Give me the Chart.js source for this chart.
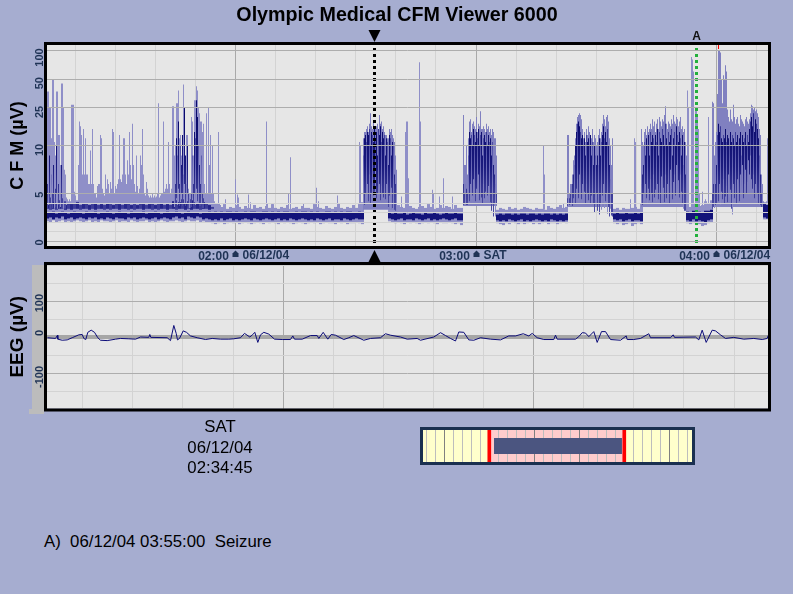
<!DOCTYPE html>
<html><head><meta charset="utf-8">
<style>
html,body{margin:0;padding:0;background:#a6add0;width:793px;height:594px;overflow:hidden}
canvas{position:absolute}
.t{position:absolute;font-family:"Liberation Sans",Arial,sans-serif;font-size:16.8px;color:#000;white-space:pre;line-height:20px}
.c{width:120px;left:160px;text-align:center}
.h{left:0;width:794px;top:2px;line-height:24px;text-align:center;font-weight:bold;font-size:19.7px}
</style></head><body>
<canvas id="cfm" width="793" height="263" style="left:0px;top:0px"></canvas>
<canvas id="eeg" width="793" height="160" style="left:0px;top:258px"></canvas>
<canvas id="nav" width="275" height="38" style="left:420px;top:427px"></canvas>
<div class="t h">Olympic Medical CFM Viewer 6000</div>
<div class="t c" style="top:417px">SAT</div>
<div class="t c" style="top:438px">06/12/04</div>
<div class="t c" style="top:458px">02:34:45</div>
<div class="t" style="left:44px;top:532px">A)  06/12/04 03:55:00  Seizure</div>
<script src="https://cdn.jsdelivr.net/npm/chart.js@4/dist/chart.umd.js"></script>
<script>
const cfmTicks = [100,50,25,10,5,4,3,2,1,0];
const cfmLabelled = [100,50,25,10,5,0];
const tenMinuteCols = [28,68,108,148,188,228,268,308,348,388,429,469,509,549,589,629,669,709];
const hourCols = [188,429,669];
const hourLabels = ["02:00","03:00","04:00"];
const dayLabels = ["06/12/04","SAT","06/12/04"];
const eegTicks = [200,150,100,50,0,-50,-100,-150];
const eegLabelled = [100,0,-100];
const cursorCol = 327, eventCol = 649, eventLabel = "A";
const clipCol = 671;

// light towers, one value per column from column 0
const earlyTops = [37,37,25,25,12,50,50,11,9,37,37,13,13,8,45,45,25,7.5,7,4.6,4.4,4.2,4.4,4.2,27,27,27,5.2,4.8,4.3,4.3,8,18,16,13,7,15,7,12,7,7,6,6,9.5,6,15,6,5,5,4.6,5.8,6,6,13,12,5.5,5,4.8,7,5.5,6.5,6,5,6.2,5.5,15,14,5,5.8,5.5,6,6.5,13,6.5,6.2,7,12,12,7,6,8.5,7,14,8,6.5,17,8,6,5.2,9,5.8,5,5.5,9,8,15,7,5,4.8,6.2,5.5,4.8,4.6,4.8,4.6,5,4.6,4.8,4.6,4.7,5,28,4.6,4.8,5,5,18,5.2,5.5,6,5.5,11,6,5,5.5,26,26,9,10,28,28,38,12,13,9,11,44,14,8,13,13,5.5,5,5,20,18,9,30,30,42,38,25,22,18,18,14,17,6,5,22,5,25,8,13,5,10,5,4.2,4,4,4,14,4,3.8,3.6,3.6];
// isolated thin spikes
const spikeCols = [178,188,190,191,201,203,219,220,225,241,243,256,269,271,290,312,313,354,358,359,360,361,372,373,385,386,392,396,405,496,497,516,583,587,588,640,641,644,645,646,648,649,650,651,652,655,658,661,720];
const spikeTops = [4.4,6.5,4.9,4.6,4.9,4.1,18,4,4,5,8.8,4,5.6,4.2,4.8,11,10,4.7,14,18,18,6.6,75,18,5.4,5,4.7,6.6,4.7,10,7,4,4.4,12,11,38,25,85,80,60,25,25,20,15,5,5.2,4.4,20,12];
// dense episodes: first column, light envelope, dark streak limits
const burstStarts = [316,416,520,594,665];
const burstFloors = [3.3,3.7,3.6,3.6,3.6];
const burstTops = [
[12,14,14,15,16,14,17,22,16,15,18,15,15,16,17,15,21,17,18,15,16,14,13,13,12,12,15,14,15,13,12,11,9,7.5],
[21,8,8,10,7,12,18,19,14,17,18,16,15,20,14,17,16,23,15,15,16,15,14,17,15,16,14,15,13,15,14,12,12,9],
[13,13,5,6,6,7,8.5,9,12,17,20,21,22,21,19,15,12,14,11,15,13,16,14,13,12,15,11,13,12,10,11,13,15,12,14,17,21,19,16,20,21,18,12,10,8,12],
[15,11,10,14,15,13,16,14,15,17,15,19,16,18,14,17,19,15,20,18,16,19,18,21,26,17,15,18,17,16,19,17,21,18,17,20,19,16,18,20,15,16,14,15,11,9],
[29,28,9,11,14,35,100,100,95,50,28,55,50,70,60,24,20,18,24,19,18,27,20,17,19,20,17,16,21,19,18,17,16,19,20,18,17,19,22,27,26,24,25,23,24,22,20,15,13,7,6,4.2]];
const streakStarts = [0,127,316,416,520,594,665];
const streakHighs = [
[6,5,9,4.6,7,5,8,4.5,5.5,10,4.4,6,4.3,5,8,4.5,4.4,4.2,4.2],
[5,6,12,9,18,6,10,8,13,7,25,9,6,10,5,4.5,4.4,5,9,6,14,12,30,20,10,8,6,9,5,4.5],
[9,12,13,11,14,13,15,10,14,13,11,15,12,14,9,15,13,16,11,14,12,13,9,12,11,8,13,12,9,11,10,7,6,5.5],
[6,5,6,5.5,5,9,14,12,13,10,15,13,11,14,12,15,10,13,14,9,12,13,11,14,10,13,11,12,9,11,8,7,6,5],
[4.5,5,4.5,5,5.5,6,7,8,10,14,17,18,16,14,12,13,10,12,9,13,11,12,10,13,9,11,8,10,9,8,9,8,12,9,11,13,16,12,14,11,15,10,8,6.5,5,5],
[6,7,8,11,9,12,10,13,9,14,11,13,12,10,13,11,15,9,14,12,11,15,13,10,17,12,10,14,11,13,15,9,12,14,10,16,13,11,14,12,9,13,8,11,7,5],
[5,6,5.5,6,8,13,17,14,16,12,11,13,12,15,11,13,12,10,14,11,13,12,10,14,11,13,10,12,14,9,13,11,12,14,10,13,11,15,18,20,16,22,14,19,17,15,12,9,7,5]];
const streakLows = [
[3.4,3.8,4,3.4,4.5,3.5,4.2,3.4,3.6,5,3.4,3.8,3.4,3.6,4,3.4,3.4,3.4,3.4],
[3.6,4,4.5,3.8,5.5,3.7,4.2,5,3.7,4.5,6,3.7,4,5,3.5,3.5,3.5,3.6,4.5,3.7,5,3.8,5.5,4.2,4,3.7,3.7,4.5,3.5,3.5],
[4,3.8,5,4.5,6,4.2,7,3.9,5,6.5,4.8,5.2,7.5,4.5,5,4.6,6,4.3,5.8,5,4.6,5.5,4.4,6,4.2,3.6,4.8,3.4,5.6,3.5,3.4,3.3,3.2,3.2],
[3.8,3.9,4,3.8,3.8,5,4.2,6,4.4,4.8,6.5,5,4.2,5.5,4.6,7,4.3,5,4.6,4,6,4.5,5.2,4.3,4.8,5.8,4.2,4.1,3.2,5,2.6,4,2.6,4],
[3.7,3.6,3.8,3.9,4,3.7,4.5,5,4,5.5,6.5,4.5,7,5,4.4,6,4.6,5.2,4,6,5,4.3,5.5,4,4.8,5.5,4,3,4.4,5,3.2,4.6,2.8,4,3.3,4.8,6,3.5,4.2,5,2.9,3.6,2.6,3.4,2.7,2.6],
[4,3.8,5,4.2,6,4.5,3.9,5.5,4.3,6.5,5,4.1,7,4.6,5.4,4.2,6,4.4,5.2,3.9,6.8,4.7,5.6,4.1,7,4.5,6,5,3.9,7.5,5.2,4.4,6.2,7,4.8,8,5.5,6.4,4.6,7,5.2,4,3.4,3.2,3.2,3.2],
[3.4,3.6,3.5,3.8,4,5,4.2,6,3.8,5.2,4.4,6.5,3.9,4.7,5.8,4.1,7,4.6,5.4,3.4,2.8,6,4.5,5.2,4,6.5,4.8,4.2,7,5,8,4.5,6,7.5,5,6.2,8.5,7,9,6.5,5.5,7,4.5,6,4.2,5,3.9,3.8,3.8,3.6]];
// quiet background band, one value every third column, per quiet stretch
const bandStarts = [0,342,450,567,640,717];
const bandLows = [
[2.4,2.5,2.3,2.5,2.4,2.6,2.3,2.4,2.5,2.3,2.4,2.5,2.4,2.3,2.5,2.4,2.5,2.3,2.4,2.3,2.5,2.4,2.3,2.5,2.4,2.4,2.3,2.5,2.4,2.5,2.3,2.4,2.5,2.4,2.3,2.4,2.5,2.3,2.4,2.5,2.4,2.3,2.5,2.6,2.4,2.5,2.3,2.6,2.5,2.4,2.6,2.5,2.3,2.4,2.3,2.2,2.3,2.2,2.4,2.2,2.3,2.4,2.2,2.3,2.2,2.3,2.4,2.3,2.2,2.4,2.3,2.2,2.3,2.4,2.3,2.2,2.3,2.4,2.2,2.3,2.2,2.4,2.3,2.2,2.3,2.4,2.3,2.2,2.3,2.2,2.4,2.3,2.2,2.3,2.4,2.2,2.3,2.3,2.2,2.4,2.3,2.2,2.3,2.4,2.3,2.3],
[2.4,2.3,2.2,2.3,2.4,2.2,2.3,2.3,2.2,2.4,2.3,2.2,2.3,2.4,2.2,2.3,2.2,2.3,2.4,2.3,2.2,2.3,2.4,2.2,2.2],
[2.2,2.1,2.2,2.1,2.3,2.2,2.1,2.2,2.3,2.1,2.2,2.1,2.2,2.3,2.2,2.1,2.2,2.1,2.3,2.2,2.1,2.2,2.1,2.2],
[2.3,2.2,2.3,2.1,2.2,2.3,2.1,2.2,2.2,2.1],
[2.2,2.1,2.3,2.1,2.2,2.1,2.0,2.2,2.3],
[2.5,2.4]];
const bandHighs = [
[3.0,3.0,3.1,2.9,3.0,3.1,3.0,2.9,3.0,3.1,3.0,3.0,2.9,3.1,3.0,3.0,3.1,2.9,3.0,3.0,3.1,3.0,2.9,3.0,3.1,3.0,3.0,2.9,3.1,3.0,3.0,3.0,3.1,2.9,3.0,3.0,3.1,3.0,2.9,3.0,3.1,3.0,3.0,3.1,3.0,2.9,3.0,3.1,3.0,3.0,3.0,2.9,3.0,3.0,3.1,3.0,3.1,3.0,3.1,3.0,3.1,3.1,3.0,3.1,3.0,3.0,3.1,3.0,3.1,3.1,3.0,3.0,3.1,3.1,3.0,3.1,3.0,3.1,3.0,3.1,3.1,3.0,3.0,3.1,3.0,3.1,3.1,3.0,3.1,3.0,3.1,3.0,3.0,3.1,3.1,3.0,3.1,3.0,3.1,3.0,3.1,3.1,3.0,3.0,3.1,3.0],
[3.0,2.9,3.0,2.9,2.9,3.0,2.8,2.9,3.0,2.9,2.9,2.8,3.0,2.9,2.9,3.0,2.9,2.8,2.9,3.0,2.9,2.9,3.0,2.9,2.9],
[2.8,2.9,2.8,2.9,2.9,2.8,2.9,2.8,2.9,2.9,2.8,2.9,2.9,2.8,2.9,2.8,2.9,2.9,2.8,2.9,2.8,2.9,2.8,2.9],
[2.9,3.0,2.9,2.9,3.0,2.9,2.9,3.0,2.9,3.0],
[3.1,3.0,3.2,3.1,3.1,3.0,3.2,3.2,3.3],
[3.9,3.8]];
const haloLows = [
[2.1,2.0,2.2,2.0,2.1,2.2,2.0,2.1,2.0,2.1,2.2,2.1,2.0,2.1,2.2,2.0,2.1,2.0,2.2,2.1,2.1,2.0,2.1,2.2,2.0,2.1,2.1,2.0,2.2,2.1,2.0,2.1,2.1,2.2,2.0,2.1,2.0,2.1,2.2,2.1,2.0,2.1,2.1,2.2,2.1,2.0,2.1,2.2,2.1,2.1,2.2,2.0,2.1,2.0,2.0,1.9,1.8,1.9,2.0,1.8,1.9,2.0,1.9,2.0,1.8,1.9,2.0,1.9,1.8,1.9,2.0,1.9,1.8,2.0,1.9,2.0,1.9,1.8,2.0,1.9,2.0,1.9,1.8,1.9,2.0,1.9,1.8,1.9,2.0,1.9,2.0,1.8,1.9,2.0,1.9,1.9,1.8,2.0,1.9,2.0,1.8,1.9,1.9,2.0,1.9,1.8],
[2.1,2.0,1.9,2.0,1.9,1.8,2.0,1.9,2.0,1.9,1.8,1.9,2.0,1.9,2.0,1.9,1.8,2.0,1.9,1.9,2.0,1.9,1.8,1.9,1.7],
[1.9,1.8,1.7,1.9,1.8,2.0,1.9,1.8,1.9,1.8,1.9,2.0,1.8,1.9,1.8,1.9,2.0,1.8,1.9,1.9,1.8,1.9,2.0,1.9],
[1.9,1.8,1.9,1.7,1.8,1.9,1.6,1.8,1.9,1.8],
[1.9,1.8,1.9,1.7,1.8,1.6,1.7,1.9,2.0],
[2.3,2.3]];
const haloHighs = [
[3.4,3.3,3.4,3.3,3.4,3.4,3.3,3.4,3.3,3.4,3.4,3.3,3.4,3.4,3.3,3.4,3.3,3.4,3.4,3.3,3.4,3.3,3.4,3.4,3.3,3.4,3.4,3.3,3.4,3.3,3.4,3.4,3.3,3.4,3.4,3.3,3.4,3.3,3.4,3.4,3.3,3.4,3.4,3.3,3.4,3.4,3.3,3.4,3.3,3.4,3.4,3.3,3.4,3.4,3.5,3.6,3.4,3.7,3.5,3.9,3.4,3.6,3.5,3.8,3.6,3.4,3.7,3.5,3.4,3.8,3.5,3.6,3.4,3.7,3.5,3.9,3.5,3.4,3.6,3.5,3.8,3.4,3.5,3.6,3.4,3.7,3.5,3.5,3.4,3.9,3.6,3.5,3.4,3.7,3.5,3.4,3.6,4.0,3.5,3.4,3.6,3.5,3.8,3.5,3.9,4.1],
[3.4,3.9,4.2,3.8,3.6,3.5,3.4,3.7,3.5,3.4,3.6,3.7,3.5,3.9,3.6,3.4,3.5,3.8,3.5,3.7,3.6,3.4,3.8,3.5,3.5],
[3.3,3.5,3.4,3.3,3.6,3.4,3.5,3.3,3.4,3.6,3.5,3.4,3.3,3.5,3.4,3.4,3.3,3.7,3.5,3.4,3.6,3.8,3.5,3.6],
[3.4,3.5,3.3,3.5,3.4,3.4,3.5,3.6,3.4,4.0],
[3.8,3.6,4.0,3.9,3.7,3.8,4.2,4.0,4.3],
[4.1,4.2]];
// upper band of the first stretch, one value every third column
const upperLows = [3.4,3.3,3.4,3.3,3.4,3.4,3.3,3.4,3.3,3.4,3.4,3.3,3.4,3.4,3.3,3.4,3.3,3.4,3.4,3.3,3.4,3.3,3.4,3.4,3.3,3.4,3.4,3.3,3.4,3.3,3.4,3.4,3.3,3.4,3.4,3.3,3.4,3.3,3.4,3.4,3.3,3.4,3.4,3.3,3.4,3.4,3.3,3.4,3.3,3.4,3.4,3.3,3.4,3.4,3.3,3.4];
const upperHighs = [4.1,3.9,4.2,4.0,3.9,4.1,3.8,4.0,3.9,4.0,4.1,3.8,3.9,4.0,3.8,3.9,4.0,3.8,3.9,3.8,4.0,3.9,3.8,4.0,3.9,3.8,3.9,4.0,3.8,3.9,3.8,4.0,3.9,3.8,3.9,4.0,3.8,3.9,4.0,3.8,3.9,3.8,4.2,4.3,4.1,4.4,4.0,4.2,4.3,4.1,4.0,3.9,4.1,4.0,3.8,3.6];

const eegCols = [0,8,10,10.3,14.7,19.7,24.7,31.3,34.7,36.3,38.3,40.3,43.7,47,50.3,53,59.7,68,73,81.3,88,93,101.3,102.3,103.3,119.7,123,126.3,128.7,130,132,135.7,139,143,149.7,158,164.7,173,181.3,186.3,193,197,202.3,205,207.3,210.3,213,216.3,221.3,227,234.7,243,245.3,247,254.7,263,269.7,271.3,275.7,280.3,283.7,288,296.3,301.3,306.3,316.3,323,333,338,343,353,359.7,369.7,373,386.3,393,398,403,408,411.3,416.3,421.3,426.3,433,443,453,461.3,468,475.7,481.3,484.7,489.7,496.3,506.3,508,509.7,528,531.3,534.7,538,541.3,546.3,549.7,554,558,563,573,578.7,579.7,586.3,593,601.3,603,623,625.7,627,648,651.3,654.7,658.7,664.7,668,673,678,686.3,696.3,706.3,714.7,719.7,720.7];
const eegValues = [-2,-4,5,-6,-9,-8,-2,6,7,-4,-7,13,19,13,-2,-9,-10,-6,-4,-5,-6,0,-1,7,-1,-2,-10,32,10,-8,-4,17,13,3,-2,-7,-4,-6,-6,-5,-2,10,0,6,13,-15,6,13,8,-6,-7,-7,3,-6,-6,4,4,-4,13,-6,7,5,-7,-2,4,-9,-4,-2,9,5,0,-6,-4,-9,0,12,4,-4,-11,14,13,-8,-9,-2,-6,-8,3,3,9,3,10,-2,-7,-7,5,-6,-6,1,12,11,1,15,-15,15,15,-7,-9,3,-7,-7,-4,9,-2,-2,6,-1,0,-8,19,-15,19,17,6,-4,-1,-6,-4,-7,-4,4];

// overview strip, in minutes from its left edge
const navFirstTick = 4.4, navStep = 12, navMax = 358.7;
const viewStart = 88.4, viewEnd = 268.4;
const recordStart = 94.7, recordEnd = 265.3;

const BG_PLOT="#e6e6e6", MAJOR="#a9a9a9", MINOR="#d3d3d3", INK="#1f3355";
const SANS='"Liberation Sans", Arial, sans-serif';

class HybridScale extends Chart.LinearScale {
  static id = "hybrid";
  static defaults = Chart.LinearScale.defaults;
  getPixelForValue(v){ return super.getPixelForValue(v<=10 ? v : 10+10*Math.log10(v/10)); }
}
Chart.register(HybridScale);

const runs=(starts,step,lows,highs)=>starts.flatMap((s,r)=>highs[r].map((h,i)=>({x:s+i*step,y:[lows[r][i],h]})));
const lightData = earlyTops.map((t,i)=>({x:i,y:[3.3,t]})).concat(spikeCols.map((c,i)=>({x:c,y:[3.3,spikeTops[i]]})));
const burstData = burstStarts.flatMap((s,r)=>burstTops[r].map((t,i)=>({x:s+i,y:[burstFloors[r],t]})));
const upperData = upperHighs.map((h,i)=>({x:i*3,y:[upperLows[i],h]}));
const barBase = {type:"bar",grouped:false,borderWidth:0,inflateAmount:0};
const noPadY = s=>{s.paddingTop=0;s.paddingBottom=0;};
const streakColor = ctx=>{
  const dark=ctx.dataIndex%3!==1, g=ctx.chart.ctx.createLinearGradient(0,120,0,205);
  g.addColorStop(0,dark?"#0a0a6c":"#2e2e90");
  g.addColorStop(0.55,dark?"#1a1a7e":"#6a6ab6");
  g.addColorStop(1,dark?"#4a4aa2":"#8a8ac6");
  return g;
};

const frame = {id:"frame",afterDraw(c){
  const a=c.chartArea,g=c.ctx;
  g.save();g.strokeStyle=c.options.plugins.frame.color;g.lineWidth=3;
  g.strokeRect(a.left-1.5,a.top-1.5,a.right-a.left+3,a.bottom-a.top+3);g.restore();
}};
const plotBg = {id:"plotBg",beforeDraw(c){
  const a=c.chartArea,g=c.ctx;g.save();g.fillStyle=BG_PLOT;g.fillRect(a.left,a.top,a.right-a.left,a.bottom-a.top);g.restore();
}};
const tri=(g,x,y,w,h)=>{g.beginPath();g.moveTo(x-w,y);g.lineTo(x+w,y);g.lineTo(x,y+h);g.closePath();g.fill();};
const cfmMarks = {id:"cfmMarks",afterDraw(c){
  const g=c.ctx,x=c.scales.x;g.save();
  g.fillStyle="#000";
  const cx=x.getPixelForValue(cursorCol);
  tri(g,cx,30,6,12);tri(g,cx,262,6,-12);
  g.font="bold 12px "+SANS;g.textAlign="center";g.textBaseline="middle";g.fillStyle="#111";
  g.fillText(eventLabel,x.getPixelForValue(eventCol),36.5);
  g.font="bold 12px "+SANS;g.textAlign="left";g.fillStyle=INK;
  hourCols.forEach((h,i)=>{
    const p=x.getPixelForValue(h);
    g.beginPath();g.moveTo(p-3,257);g.lineTo(p+3,257);g.lineTo(p+3,253.5);g.lineTo(p,250.5);g.lineTo(p-3,253.5);g.closePath();g.fill();
    g.fillText(dayLabels[i],p+7,255.5);
  });
  g.restore();
}};

new Chart(document.getElementById("cfm"),{
  data:{datasets:[
    {...barBase,label:"quiet halo",order:9,barThickness:3,backgroundColor:"#9090c8",data:runs(bandStarts,3,haloLows,haloHighs)},
    {...barBase,label:"towers",order:8,barThickness:1,backgroundColor:"#8f8fc8",data:lightData},
    {...barBase,label:"episodes",order:7,barThickness:1,backgroundColor:"#8080c0",data:burstData},
    {...barBase,label:"upper band",order:6,barThickness:3,backgroundColor:ctx=>(ctx.dataIndex%2?"#3c3c98":"#26268a"),data:upperData},
    {...barBase,label:"quiet band",order:5,barThickness:3,backgroundColor:"#13137a",data:runs(bandStarts,3,bandLows,bandHighs)},
    {...barBase,label:"streaks",order:4,barThickness:1,backgroundColor:streakColor,data:runs(streakStarts,1,streakLows,streakHighs)},
    {...barBase,label:"clipped",order:1,barThickness:1,backgroundColor:"#ff0000",data:[{x:clipCol,y:[103,140]}]},
    {type:"line",label:"cursor",order:0,borderColor:"#000",borderWidth:3,borderDash:[3,3],pointRadius:0,data:[{x:cursorCol,y:106},{x:cursorCol,y:-0.18}]},
    {type:"line",label:"event",order:0,borderColor:"#22b03c",borderWidth:3,borderDash:[3,3],pointRadius:0,data:[{x:eventCol,y:106},{x:eventCol,y:-0.18}]}
  ]},
  options:{responsive:false,animation:false,devicePixelRatio:1,events:[],
    layout:{padding:{right:25,left:0,top:45,bottom:0}},
    plugins:{legend:{display:false},tooltip:{enabled:false},frame:{color:"#000"}},
    scales:{
      x:{type:"linear",position:"bottom",min:-0.5,max:720.5,offset:false,
        afterFit(s){s.height=17;},
        afterBuildTicks(s){s.ticks=tenMinuteCols.map(value=>({value}));},
        grid:{offset:false,drawTicks:false,color:c=>hourCols.includes(c.tick&&c.tick.value)?MAJOR:MINOR,lineWidth:1},
        border:{display:false},
        ticks:{autoSkip:false,maxRotation:0,minRotation:0,padding:3,labelOffset:-22,color:INK,font:{family:SANS,size:12,weight:"bold"},
          callback:v=>{const i=hourCols.indexOf(v);return i<0?"":hourLabels[i];}}},
      y:{type:"hybrid",position:"left",min:-0.49,max:20.56,
        afterFit(s){s.width=47;noPadY(s);},
        afterBuildTicks(s){s.ticks=cfmTicks.map(value=>({value}));},
        grid:{drawTicks:false,z:1,lineWidth:1,color:c=>cfmLabelled.includes(c.tick&&c.tick.value)?"#adadad":MINOR},
        border:{display:false},
        title:{display:true,text:"C F M (µV)",color:"#000",font:{family:SANS,size:18,weight:"bold"},padding:{top:7,bottom:0}},
        ticks:{autoSkip:false,minRotation:90,maxRotation:90,padding:7,labelOffset:-2,color:INK,crossAlign:"near",font:{family:SANS,size:11,weight:"bold"},
          callback:v=>cfmLabelled.includes(v)?String(v):""}}
    }},
  plugins:[plotBg,frame,cfmMarks]
});

const eegBack = {id:"eegBack",beforeDraw(c){
  const g=c.ctx;g.save();g.fillStyle="#bcbcbc";g.fillRect(32,7,12,146);g.fillRect(29,151,15,5);g.restore();
}};
new Chart(document.getElementById("eeg"),{
  data:{datasets:[
    {type:"line",label:"zero band",order:2,borderColor:"#a6a6a6",borderWidth:4,pointRadius:0,data:[{x:-0.5,y:0},{x:720.5,y:0}]},
    {type:"line",label:"EEG",order:1,borderColor:"#0b0b78",borderWidth:1,pointRadius:0,tension:0,data:eegCols.map((x,i)=>({x,y:eegValues[i]}))}
  ]},
  options:{responsive:false,animation:false,devicePixelRatio:1,events:[],
    layout:{padding:{top:7,right:25,left:0,bottom:9.5}},
    plugins:{legend:{display:false},tooltip:{enabled:false},frame:{color:"#000"}},
    scales:{
      x:{type:"linear",position:"bottom",min:-0.5,max:720.5,
        afterFit(s){s.height=0;},
        afterBuildTicks(s){s.ticks=Array.from({length:14},(_,i)=>({value:35.2+i*50.1}));},
        grid:{drawTicks:false,color:c=>{const v=c.tick&&c.tick.value;return (Math.abs(v-235.6)<1||Math.abs(v-486.1)<1)?MAJOR:MINOR;}},
        border:{display:false},ticks:{display:false}},
      y:{type:"linear",position:"left",min:-198.6,max:200,
        afterFit(s){s.width=47;noPadY(s);},
        afterBuildTicks(s){s.ticks=eegTicks.map(value=>({value}));},
        grid:{drawTicks:false,color:c=>{const v=c.tick&&c.tick.value;return eegLabelled.includes(v)?"#adadad":MINOR;}},
        border:{display:false},
        title:{display:true,text:"EEG (µV)",color:"#000",font:{family:SANS,size:19,weight:"bold"},padding:{top:6,bottom:0}},
        ticks:{autoSkip:false,minRotation:90,maxRotation:90,padding:7,labelOffset:-7,color:INK,crossAlign:"near",font:{family:SANS,size:11,weight:"bold"},
          callback:v=>eegLabelled.includes(v)?String(v):""}}
    }},
  plugins:[eegBack,plotBg,frame]
});

const navBack = {id:"navBack",beforeDraw(c){
  const a=c.chartArea,g=c.ctx,x=c.scales.x;g.save();
  g.fillStyle="#ffffcc";g.fillRect(a.left,a.top,a.right-a.left,a.bottom-a.top);
  const p=x.getPixelForValue(viewStart),q=x.getPixelForValue(viewEnd);
  g.fillStyle="#ffcccc";g.fillRect(p,a.top,q-p,a.bottom-a.top);g.restore();
}};
new Chart(document.getElementById("nav"),{
  type:"bar",
  data:{labels:["view"],datasets:[
    {label:"record",grouped:false,order:2,barPercentage:0.5,categoryPercentage:1,backgroundColor:"#4b5580",borderWidth:0,data:[[recordStart,recordEnd]]},
    {label:"start",grouped:false,order:1,barPercentage:1,categoryPercentage:1,backgroundColor:"#ff0000",borderWidth:0,data:[[viewStart-2,viewStart+2]]},
    {label:"end",grouped:false,order:1,barPercentage:1,categoryPercentage:1,backgroundColor:"#ff0000",borderWidth:0,data:[[viewEnd-2,viewEnd+2]]}
  ]},
  options:{indexAxis:"y",responsive:false,animation:false,devicePixelRatio:1,events:[],
    layout:{padding:3},
    plugins:{legend:{display:false},tooltip:{enabled:false},frame:{color:"#1a3050"}},
    scales:{
      x:{type:"linear",min:0,max:navMax,afterFit(s){s.height=0;},
        afterBuildTicks(s){s.ticks=Array.from({length:30},(_,i)=>({value:navFirstTick+i*navStep}));},
        grid:{drawTicks:false,color:c=>((c.index-2)%5===0?"#808080":"#bdbdbd")},
        border:{display:false},ticks:{display:false}},
      y:{display:false}
    }},
  plugins:[navBack,frame]
});
</script>
</body></html>
